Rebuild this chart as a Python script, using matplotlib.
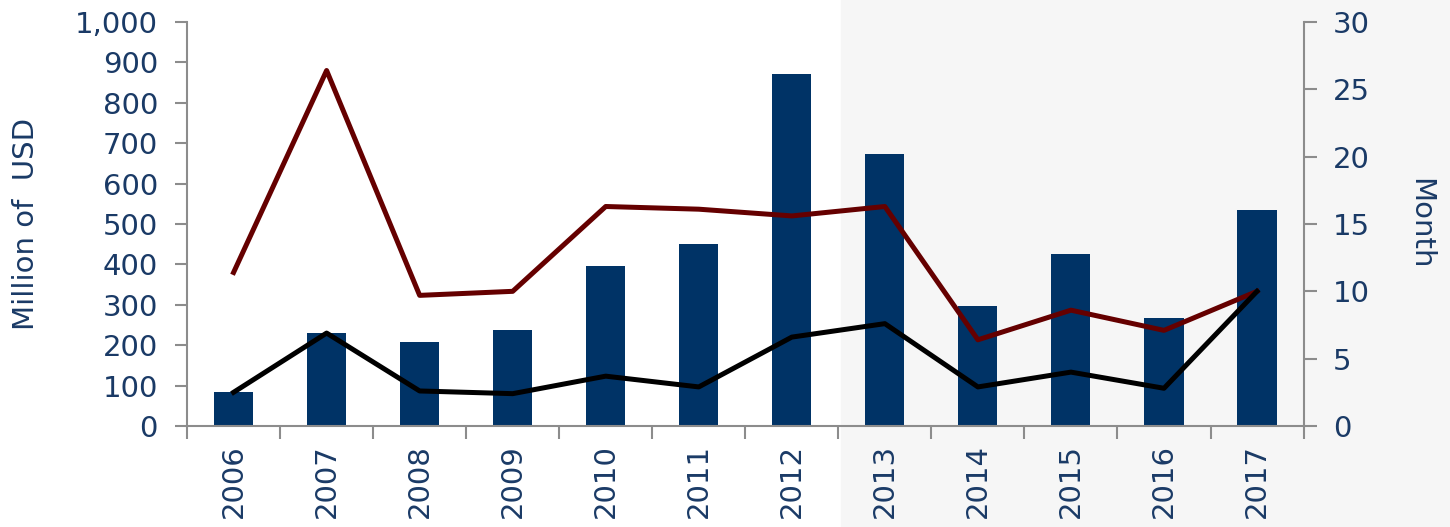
import numpy as np
import matplotlib.pyplot as plt
from matplotlib.patches import Rectangle
from matplotlib.ticker import FuncFormatter

# Données
years = ['2006', '2007', '2008', '2009', '2010', '2011',
         '2012', '2013', '2014', '2015', '2016', '2017']
value_musd = [84, 231, 208, 238, 395, 450, 872, 674, 297, 425, 268, 535]
months_red = [11.4, 26.4, 9.7, 10.0, 16.3, 16.1, 15.6, 16.3, 6.4, 8.6, 7.1, 10.0]
months_black = [2.5, 6.9, 2.6, 2.4, 3.7, 2.9, 6.6, 7.6, 2.9, 4.0, 2.8, 10.0]

navy = '#003366'
text_col = '#1a3a66'
grey = '#8c8c8c'
fs = 21

plt.rcParams['font.family'] = ['DejaVu Sans']

fig = plt.figure(figsize=(14.5, 5.27), dpi=100)
# fond gris clair à droite (filigrane)
fig.patches.append(Rectangle((0.58, 0), 0.42, 1, transform=fig.transFigure,
                             color='#f6f6f6', zorder=-5))
ax = fig.add_axes([0.129, 0.1917, 0.77, 0.7665])
ax.patch.set_alpha(0)
x = np.arange(len(years))

# Barres (axe gauche)
ax.bar(x, value_musd, width=0.42, color=navy, zorder=2)
ax.set_xlim(-0.5, len(years) - 0.5)
ax.set_ylim(0, 1000)
ax.set_yticks(np.arange(0, 1001, 100))
ax.yaxis.set_major_formatter(FuncFormatter(lambda v, p: f'{int(v):,}'))
ax.set_ylabel('Million of  USD', color=text_col, fontsize=fs, labelpad=25)

# Axe X : étiquettes au centre, graduations aux limites
ax.set_xticks(x)
ax.set_xticklabels(years, rotation=90)
ax.set_xticks(np.arange(-0.5, len(years), 1), minor=True)
ax.tick_params(axis='x', which='major', length=0, labelsize=fs,
               labelcolor=text_col, pad=13)
ax.tick_params(axis='x', which='minor', length=9, width=1.5, color=grey,
               direction='out')
ax.tick_params(axis='y', length=9, width=1.5, color=grey, labelsize=fs,
               labelcolor=text_col, pad=12)

for s in ['top', 'right']:
    ax.spines[s].set_visible(False)
for s in ['left', 'bottom']:
    ax.spines[s].set_color(grey)
    ax.spines[s].set_linewidth(1.5)

# Lignes (axe droit)
ax2 = ax.twinx()
ax2.plot(x, months_red, color='#650000', lw=3.6, zorder=3)
ax2.plot(x, months_black, color='black', lw=3.6, zorder=3)
ax2.set_ylim(0, 30)
ax2.set_yticks(np.arange(0, 31, 5))
ax2.tick_params(axis='y', length=9, width=1.5, color=grey, labelsize=fs,
                labelcolor=text_col, pad=12)
ax2.set_ylabel('Month', color=text_col, fontsize=fs, rotation=270,
               labelpad=46)
for s in ['top', 'left', 'bottom']:
    ax2.spines[s].set_visible(False)
ax2.spines['right'].set_color(grey)
ax2.spines['right'].set_linewidth(1.5)

fig.savefig('out.png', dpi=100)
